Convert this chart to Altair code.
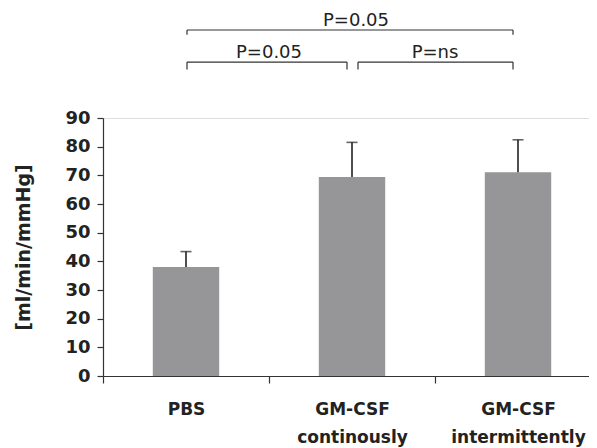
import altair as alt
import pandas as pd

groups = ["PBS", "GM-CSF|continously", "GM-CSF|intermittently"]
means = [38.0, 69.4, 71.1]
errors = [5.4, 12.1, 11.3]

br_left = ["PBS", "PBS", "GM-CSF|continously"]
br_right = ["GM-CSF|continously", "GM-CSF|intermittently", "GM-CSF|intermittently"]
br_mid = ["PBS", "GM-CSF|continously", "GM-CSF|continously"]
br_level = [109.5, 120.7, 109.5]
br_tip = [106.9, 119.0, 106.9]
br_text = ["P=0.05", "P=0.05", "P=ns"]

y_ticks = [0, 10, 20, 30, 40, 50, 60, 70, 80, 90]

df = pd.DataFrame({"group": groups, "mean": means, "err": errors})
df["upper"] = df["mean"] + df["err"]
br = pd.DataFrame({"id": [0, 1, 2], "left": br_left, "right": br_right, "mid": br_mid,
                   "level": br_level, "tip": br_tip, "label": br_text})

FONT = "DejaVu Sans"
TXT = "#222222"
LINE = "#333333"
YTITLE = "[ml/min/mmHg]"

# the plot runs past the right edge of the page, as in the reference
xscale = alt.Scale(domain=groups, paddingInner=0, paddingOuter=0, range=[0, 498])
yscale = alt.Scale(domain=[0, 90], nice=False, zero=True)

x_axis = alt.Axis(
    labelExpr="split(datum.label, '|')",
    labelAngle=0, labelFont=FONT, labelFontSize=17, labelFontWeight="bold",
    labelColor=TXT, labelPadding=18, labelLineHeight=28,
    tickBand="extent", tickSize=7, tickColor=LINE, domainColor=LINE,
    tickWidth=1.2, domainWidth=1.2, title=None,
)
y_axis = alt.Axis(
    values=y_ticks, grid=False, tickSize=6, labelOverlap=False,
    labelFont=FONT, labelFontSize=18, labelFontWeight="bold",
    labelColor=TXT, labelPadding=7, tickColor=LINE, domainColor=LINE,
    tickWidth=1.2, domainWidth=1.2,
    title=YTITLE, titleFont=FONT, titleFontSize=19,
    titleFontWeight="bold", titleColor=TXT, titlePadding=31,
)


def X(field, **kw):
    return alt.X(field, scale=xscale, sort=groups, axis=x_axis, title=None, **kw)


def Y(field):
    return alt.Y(field, scale=yscale, axis=y_axis, title=YTITLE)


base = alt.Chart(df)
bars = base.mark_bar(color="#969698", width=alt.RelativeBandSize(0.4)).encode(
    x=X("group:N"), y=Y("mean:Q"))
err_rule = base.mark_rule(color=TXT, strokeWidth=1.6).encode(
    x=X("group:N"), y=Y("mean:Q"), y2="upper:Q")
err_cap = base.mark_tick(color=TXT, thickness=1.6, size=11).encode(
    x=X("group:N"), y=Y("upper:Q"))

layers = [bars, err_rule, err_cap]

left_off = [1, 1, 6]
right_off = [-5, -5, -5]
bbase = alt.Chart(br)
for i in range(3):
    sub = bbase.transform_filter(alt.datum.id == i)
    hx = sub.mark_rule(color=LINE, strokeWidth=1.2, xOffset=left_off[i], x2Offset=right_off[i]).encode(
        x=X("left:N"), x2="right:N", y=Y("level:Q"))
    le = sub.mark_rule(color=LINE, strokeWidth=1.2, xOffset=left_off[i]).encode(
        x=X("left:N"), y=Y("level:Q"), y2="tip:Q")
    re = sub.mark_rule(color=LINE, strokeWidth=1.2, xOffset=right_off[i]).encode(
        x=X("right:N"), y=Y("level:Q"), y2="tip:Q")
    layers += [hx, le, re]

txt_top = bbase.transform_filter(alt.datum.id == 1).mark_text(
    font=FONT, fontSize=18, color=TXT, baseline="alphabetic", dy=-4, dx=4).encode(
    x=X("mid:N"), y=Y("level:Q"), text="label:N")
txt_low = bbase.transform_filter(alt.datum.id != 1).mark_text(
    font=FONT, fontSize=18, color=TXT, baseline="alphabetic", dy=-4).encode(
    x=X("mid:N", bandPosition=1), y=Y("level:Q"), text="label:N")
layers += [txt_top, txt_low]

chart = alt.layer(*layers).properties(
    width=486, height=258,
    autosize=alt.AutoSizeParams(type="none"),
    padding={"left": 95, "top": 110, "right": 0, "bottom": 72},
).configure_view(stroke=None).configure(background="white")

chart.save("out.html", embed_options={"renderer": "svg", "actions": False})
